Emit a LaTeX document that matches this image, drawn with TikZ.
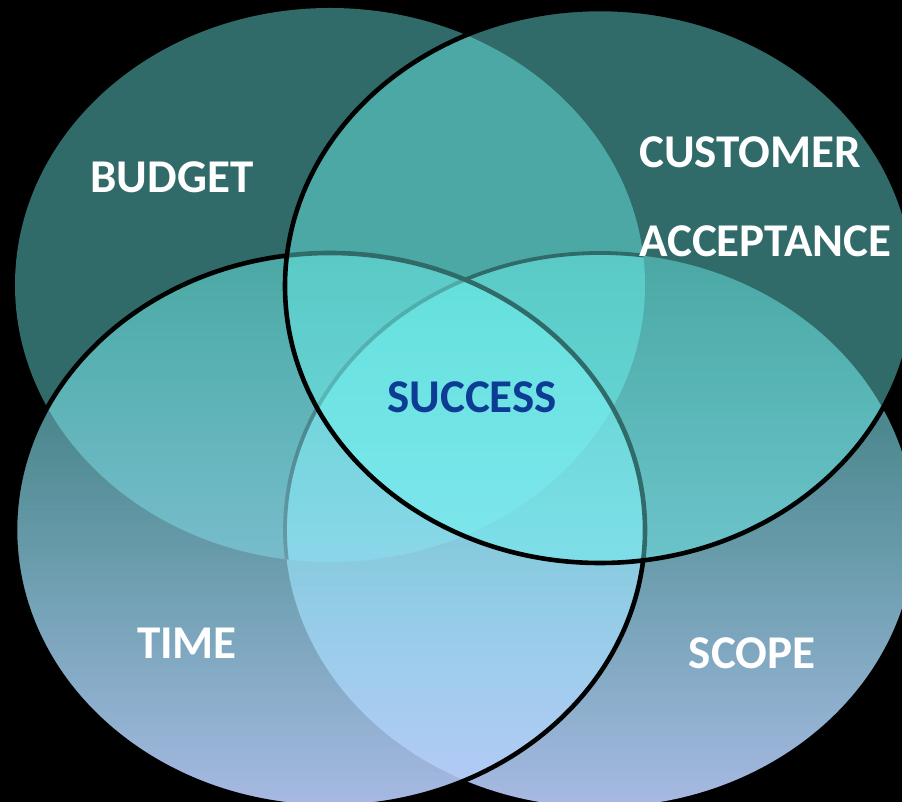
\documentclass[tikz,border=0pt]{standalone}
\usepackage{fontspec}
\setmainfont{Carlito}
\usetikzlibrary{fadings}

\definecolor{venteal}{RGB}{112,249,244}
\definecolor{venlav}{RGB}{184,202,248}
\definecolor{successblue}{RGB}{12,60,148}

% lower ellipses: see-through at the top, nearly solid at the bottom
\tikzfading[name=lowfade, top color=transparent!57, bottom color=transparent!8]

\begin{document}
\begin{tikzpicture}[x=1pt,y=1pt,
  lbl/.style={font=\bfseries\fontsize{47}{50}\selectfont, text=white, inner sep=0pt},
  upperfill/.style={fill=venteal, fill opacity=0.43},
  lowerfill/.style={top color=venteal, bottom color=venlav, path fading=lowfade},
  rim/.style={draw=black, line width=4.6pt},
  softrim/.style={draw=black, line width=3.8pt}]

\fill[black] (0,0) rectangle (902,802);
\path[use as bounding box] (0,0) rectangle (902,802);

\def\vrx{315}
\def\vry{277}
\coordinate (cbudget) at (330,517);
\coordinate (ccust)   at (600,516);
\coordinate (ctime)   at (330,272);
\coordinate (cscope)  at (600,272);

% scope ellipse, lowest layer
\shade[lowerfill] (cscope) ellipse [x radius=\vrx, y radius=\vry];

% budget ellipse
\fill[upperfill] (cbudget) ellipse [x radius=\vrx, y radius=\vry];

% rim of the scope ellipse, only where it crosses the budget ellipse
\begin{scope}
  \clip (cbudget) ellipse [x radius=\vrx, y radius=\vry];
  \draw[softrim] (cscope) ellipse [x radius=\vrx, y radius=\vry];
\end{scope}

% time ellipse
\shade[lowerfill] (ctime) ellipse [x radius=\vrx, y radius=\vry];
\draw[rim] (ctime) ellipse [x radius=\vrx, y radius=\vry];

% customer acceptance ellipse, top layer
\fill[upperfill] (ccust) ellipse [x radius=\vrx, y radius=\vry];
\draw[rim] (ccust) ellipse [x radius=\vrx, y radius=\vry];

% labels
\node[lbl, anchor=base] (budget) at (172,609) {BUDGET};
\node[lbl, anchor=base west] (customer) at (639,634) {CUSTOMER};
\node[lbl, anchor=base west] (acceptance) at (639,545) {ACCEPTANCE};
\node[lbl, anchor=base, text=successblue] (success) at (472,389) {SUCCESS};
\node[lbl, anchor=base] (time) at (187,143) {TIME};
\node[lbl, anchor=base] (scope) at (752,133) {SCOPE};
\end{tikzpicture}
\end{document}
